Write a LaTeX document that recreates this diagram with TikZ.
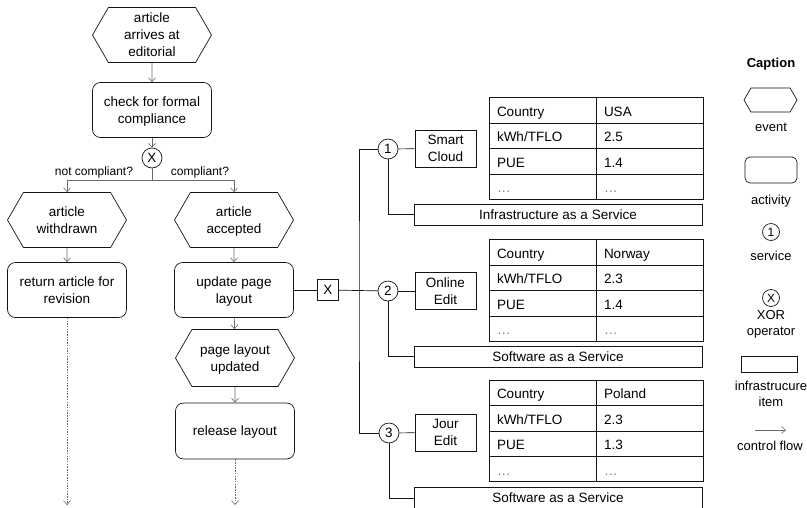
\documentclass[tikz,border=0pt]{standalone}
\usepackage{fontspec}
\setmainfont{Liberation Sans}
\usepackage{xcolor}
\usepackage{tikz}
\usetikzlibrary{positioning,shapes.symbols,arrows.meta,matrix}
\definecolor{FlowGray}{HTML}{6A6A6A}
\definecolor{FrameGray}{HTML}{151515}
\definecolor{DotGray}{HTML}{777777}

\begin{document}
\begin{tikzpicture}[x=1pt, y=-1pt,
  every node/.style={font=\fontsize{13.5}{17}\selectfont},
  event/.style={draw=FrameGray, line width=0.7pt, signal, signal to=east and west, signal pointer angle=120, minimum width=119pt, minimum height=55pt, align=center, inner sep=1pt, text depth=0pt},
  activity/.style={draw=FrameGray, line width=0.7pt, rounded corners=8pt, minimum width=119pt, minimum height=55pt, align=center, text depth=0pt},
  gate/.style={draw=FrameGray, line width=0.7pt, circle, minimum size=20pt, inner sep=0pt},
  appbox/.style={draw=FrameGray, line width=0.7pt, minimum width=61pt, minimum height=37pt, align=center, inner sep=1pt, text depth=0pt},
  infra/.style={draw=FrameGray, line width=0.7pt, minimum width=288pt, minimum height=21pt, inner sep=0pt},
  datagrid/.style={matrix of nodes, column sep=-0.7pt, row sep=-0.7pt, nodes={draw=FrameGray, line width=0.7pt, text width=91pt, inner xsep=8pt, inner ysep=0pt, minimum height=25.4pt, text height=12pt, text depth=0pt, align=left}},
  note/.style={font=\fontsize{12}{14}\selectfont},
  keytext/.style={font=\fontsize{13}{16}\selectfont},
  flow/.style={draw=FlowGray, line width=0.6pt, -{Straight Barb[length=4pt,width=7pt]}},
  link/.style={draw=FrameGray, line width=0.7pt}]
  \useasboundingbox (0,0) rectangle (807,507);
  % editorial process
  \node[event] (arrive) at (152,35) {article\\arrives at\\editorial};
  \node[activity] (check) at (152,110) {check for formal\\compliance};
  \node[gate] (xor) at (152,158) {X};
  \coordinate (split) at (152,180);
  \node[event] (withdrawn) at (67,220) {article\\withdrawn};
  \node[event] (accepted) at (234,220) {article\\accepted};
  \node[note] (nocomp) at (94,172) {not compliant?};
  \node[note] (comp) at (200,172) {compliant?};
  \node[activity] (revision) at (67,290) {return article for\\revision};
  \node[activity] (update) at (234,290) {update page\\layout};
  \node[event, minimum height=57pt] (updated) at (235,358) {page layout\\updated};
  \node[activity, minimum height=56pt] (release) at (235,431) {release layout};
  \coordinate (endL) at (67,505);
  \coordinate (endR) at (235,505);
  \draw[flow] (arrive) -- (check);
  \draw[flow] (check) -- (xor);
  \draw[FlowGray, line width=0.6pt] (xor) -- (split);
  \draw[flow] (split) -| (withdrawn);
  \draw[flow] (split) -| (accepted);
  \draw[flow] (withdrawn) -- (revision);
  \draw[flow] (accepted) -- (update);
  \draw[flow] (update) -- (updated);
  \draw[flow] (updated) -- (release);
  \draw[flow, dash pattern=on 1.5pt off 1.2pt] (revision) -- (endL);
  \draw[flow, dash pattern=on 1.5pt off 1.2pt] (release) -- (endR);
  % services
  \node[draw=FrameGray, line width=0.7pt, minimum size=21pt, inner sep=0pt] (xbox) at (328,290) {X};
  \coordinate (bus) at (359,291);
  \node[gate] (svc1) at (388,149) {1};
  \node[gate] (svc2) at (388,291) {2};
  \node[gate] (svc3) at (389,433) {3};
  \node[appbox] (cloud) at (445.5,148.5) {Smart\\Cloud};
  \node[appbox] (online) at (445.5,291) {Online\\Edit};
  \node[appbox] (jour) at (445.5,432.5) {Jour\\Edit};
  \matrix[datagrid] (cloudtab) at (596,148.5) {Country & USA\\ kWh/TFLO & 2.5\\ PUE & 1.4\\ |[text=DotGray]| … & |[text=DotGray]| …\\};
  \matrix[datagrid] (onlinetab) at (596,290.5) {Country & Norway\\ kWh/TFLO & 2.3\\ PUE & 1.4\\ |[text=DotGray]| … & |[text=DotGray]| …\\};
  \matrix[datagrid] (jourtab) at (596,431) {Country & Poland\\ kWh/TFLO & 2.3\\ PUE & 1.3\\ |[text=DotGray]| … & |[text=DotGray]| …\\};
  \node[infra] (iaas) at (558,214.5) {Infrastructure as a Service};
  \node[infra] (saas) at (558,356.5) {Software as a Service};
  \node[infra] (saasj) at (558,498) {Software as a Service};
  \draw[link] (update) -- (xbox);
  \draw[link] (xbox) -- (svc2);
  \draw[link] (svc1) -| (bus) |- (svc3);
  \draw[link] (svc1) -- (cloud);
  \draw[link] (svc2) -- (online);
  \draw[link] (svc3) -- (jour);
  \draw[link] (svc1) |- (iaas);
  \draw[link] (svc2) |- (saas);
  \draw[link] (svc3) |- (saasj);
  % caption
  \node[font=\fontsize{13}{16}\selectfont\bfseries] (caption) at (771,64) {Caption};
  \node[event, minimum width=53pt, minimum height=24pt] (evkey) at (770.5,100) {};
  \node[keytext] (evtxt) at (771,127) {event};
  \node[activity, rounded corners=5pt, minimum width=52pt, minimum height=26pt] (actkey) at (771,170) {};
  \node[keytext] (acttxt) at (771,201) {activity};
  \node[gate, minimum size=17pt, font=\fontsize{12}{14}\selectfont] (svckey) at (771,232) {1};
  \node[keytext] (svctxt) at (771,256) {service};
  \node[gate, minimum size=17pt, font=\fontsize{12}{14}\selectfont] (xorkey) at (771,298) {X};
  \node[keytext, align=center] (xortxt) at (771,324) {XOR\\operator};
  \node[draw=FrameGray, line width=0.7pt, minimum width=56pt, minimum height=16pt, inner sep=0pt] (infrakey) at (769,364) {};
  \node[keytext, align=center] (infratxt) at (771,394) {infrastrucure\\item};
  \coordinate (flowA) at (755,430);
  \coordinate (flowB) at (786,430);
  \draw[flow] (flowA) -- (flowB);
  \node[keytext] (flowtxt) at (770,446) {control flow};
\end{tikzpicture}
\end{document}
